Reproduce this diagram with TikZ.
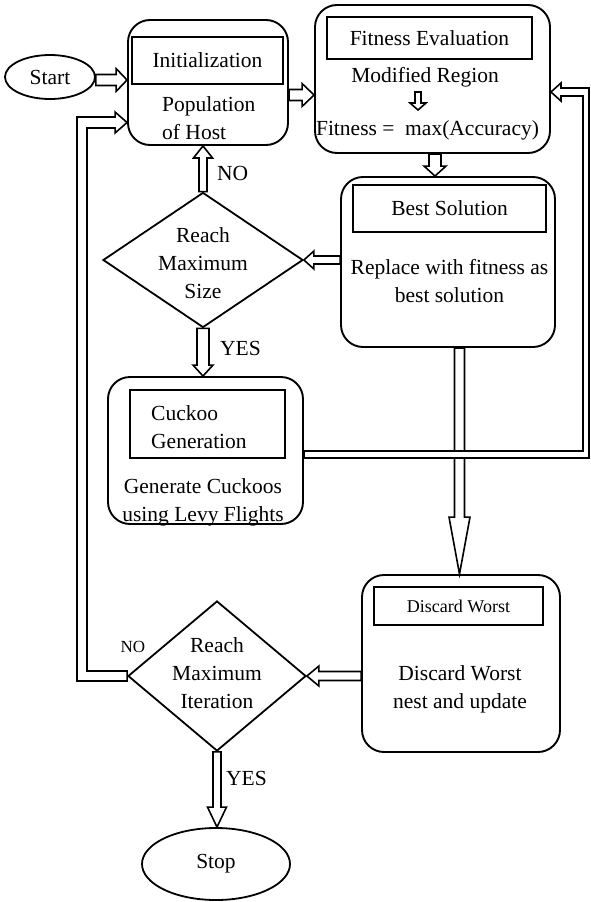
\documentclass[tikz,border=0pt]{standalone}
\usepackage{fontspec}
\setmainfont{Liberation Serif}
\usetikzlibrary{shapes.geometric,calc}
\tikzset{
 rbox/.style={draw, line width=1.9pt, rounded corners=22pt, inner sep=0pt},
 ibox/.style={draw, line width=1.9pt, inner sep=0pt, align=center},
 txt/.style={inner sep=0pt, align=center},
 blk/.style={draw, line width=1.6pt, fill=white, line join=miter},
 dia/.style={draw, diamond, line width=1.8pt, inner sep=0pt},
 ell/.style={draw, ellipse, line width=1.8pt, inner sep=0pt, align=center},
 small/.style={font=\fontsize{18}{22}\selectfont},
}
% block arrows: #1 from, #2 to, #3 half shaft, #4 half head, #5 head length
\newcommand\arR[5]{\draw[blk] let \p1=(#1),\p2=(#2) in (\x1,\y1+#3) -- (\x2-#5,\y1+#3) -- (\x2-#5,\y1+#4) -- (\x2,\y1) -- (\x2-#5,\y1-#4) -- (\x2-#5,\y1-#3) -- (\x1,\y1-#3) -- cycle;}
\newcommand\arL[5]{\draw[blk] let \p1=(#1),\p2=(#2) in (\x1,\y1+#3) -- (\x2+#5,\y1+#3) -- (\x2+#5,\y1+#4) -- (\x2,\y1) -- (\x2+#5,\y1-#4) -- (\x2+#5,\y1-#3) -- (\x1,\y1-#3) -- cycle;}
\newcommand\arD[5]{\draw[blk] let \p1=(#1),\p2=(#2) in (\x1+#3,\y1) -- (\x1+#3,\y2+#5) -- (\x1+#4,\y2+#5) -- (\x1,\y2) -- (\x1-#4,\y2+#5) -- (\x1-#3,\y2+#5) -- (\x1-#3,\y1) -- cycle;}
\newcommand\arU[5]{\draw[blk] let \p1=(#1),\p2=(#2) in (\x1+#3,\y1) -- (\x1+#3,\y2-#5) -- (\x1+#4,\y2-#5) -- (\x1,\y2) -- (\x1-#4,\y2-#5) -- (\x1-#3,\y2-#5) -- (\x1-#3,\y1) -- cycle;}

\begin{document}
\begin{tikzpicture}[x=1pt,y=-1pt, font=\fontsize{21.5}{28}\selectfont]
\useasboundingbox (0,0) rectangle (590,902);

% nodes
\node[ell, minimum width=90pt, minimum height=44pt] (start) at (50,77) {Start};

\node[rbox, minimum width=160pt, minimum height=125pt] (init) at (208,82.5) {};
\node[ibox, minimum width=151pt, minimum height=47pt] (initT) at (207.5,60.5) {Initialization};
\node[txt, align=left, anchor=west] (initB) at (162,118) {Population\\of Host};

\node[rbox, minimum width=235pt, minimum height=148pt] (fit) at (432.5,79) {};
\node[ibox, minimum width=205pt, minimum height=42pt] (fitT) at (429.5,38) {Fitness Evaluation};
\node[txt] (modr) at (425,77) {Modified Region};
\node[txt] (acc) at (427.5,130) {Fitness = \ max(Accuracy)};
\coordinate (sa1) at (418,92);
\coordinate (sa2) at (418,110);

\node[rbox, minimum width=214pt, minimum height=170pt] (best) at (448,262) {};
\node[ibox, minimum width=193pt, minimum height=47pt] (bestT) at (449.5,208.5) {Best Solution};
\node[txt] (bestB) at (449.5,281) {Replace with fitness as\\best solution};

\node[dia, minimum width=200pt, minimum height=135pt] (d1) at (203,260) {};
\node[txt] (d1t) at (203,263) {Reach\\Maximum\\Size};

\node[rbox, minimum width=195pt, minimum height=147pt] (cuck) at (205.5,450.5) {};
\node[ibox, minimum width=155pt, minimum height=68pt] (cuckT) at (207.5,424) {};
\node[txt, align=left, anchor=west] (cuckTt) at (151,427.5) {Cuckoo\\Generation};
\node[txt] (cuckB) at (203,502.5) {Generate Cuckoos\\using Levy Flights};

\node[rbox, minimum width=198pt, minimum height=177pt] (disc) at (461,663.5) {};
\node[ibox, small, minimum width=169pt, minimum height=38pt] (discT) at (458.5,606) {Discard Worst};
\node[txt] (discB) at (460,689.5) {Discard Worst\\nest and update};

\node[dia, minimum width=178pt, minimum height=150pt] (d2) at (217,676) {};
\node[txt] (d2t) at (217,673) {Reach\\Maximum\\Iteration};

\node[ell, minimum width=148pt, minimum height=72pt] (stop) at (216,864) {Stop};

% labels
\node[txt, anchor=west] (no1) at (217,173) {NO};
\node[txt, anchor=west] (yes1) at (220,348) {YES};
\node[txt, font=\fontsize{17}{20}\selectfont] (no2) at (133,647) {NO};
\node[txt, anchor=west] (yes2) at (226,778) {YES};

% loop coordinates
\coordinate (rc) at (586,454.5);
\coordinate (rt) at (586,92);
\coordinate (lc) at (82,676);
\coordinate (lt) at (82,122.5);

% arrows
\arR{[yshift=-3pt]start.east}{init.west}{5.5pt}{11.5pt}{11pt}
\arR{[yshift=-12.5pt]init.east}{fit.west}{5.5pt}{11.5pt}{12pt}
\arD{sa1}{sa2}{3pt}{8pt}{7pt}
\arD{[xshift=2.5pt]fit.south}{best.north}{6pt}{11pt}{10pt}
\arL{best.west |- d1.east}{d1.east}{4pt}{9pt}{10pt}
\arU{d1.north}{init.south}{4pt}{9.5pt}{12pt}
\arD{d1.south}{cuck.north}{6pt}{10pt}{11pt}
\arD{[xshift=11.5pt]best.south}{disc.north}{5pt}{10.5pt}{57pt}
\arL{disc.west |- d2.east}{d2.east}{4.5pt}{10pt}{12pt}
\arD{d2.south}{stop.north}{4pt}{9.5pt}{20pt}

% right loop: cuckoo -> fitness
\draw[blk] let \p1=(cuck.east), \p2=(rc), \p3=(rt), \p4=(fit.east) in
 (\x1,\y2+3.5pt) -- (\x2-3pt,\y2+3.5pt) -- (\x2-3pt,\y3-4pt) -- (\x4+10pt,\y3-4pt)
 -- (\x4+10pt,\y3-9pt) -- (\x4,\y3) -- (\x4+10pt,\y3+9pt) -- (\x4+10pt,\y3+4pt)
 -- (\x2+3pt,\y3+4pt) -- (\x2+3pt,\y2-3.5pt) -- (\x1,\y2-3.5pt) -- cycle;

% left loop: iteration NO -> initialization
\draw[blk] let \p1=(d2.west), \p2=(lc), \p3=(lt), \p4=(init.west) in
 (\x1,\y1+5pt) -- (\x2+5pt,\y1+5pt) -- (\x2+5pt,\y3-5.5pt) -- (\x4-12pt,\y3-5.5pt)
 -- (\x4-12pt,\y3-10.5pt) -- (\x4,\y3) -- (\x4-12pt,\y3+10.5pt) -- (\x4-12pt,\y3+5.5pt)
 -- (\x2-5pt,\y3+5.5pt) -- (\x2-5pt,\y1-5pt) -- (\x1,\y1-5pt) -- cycle;
\end{tikzpicture}
\end{document}
